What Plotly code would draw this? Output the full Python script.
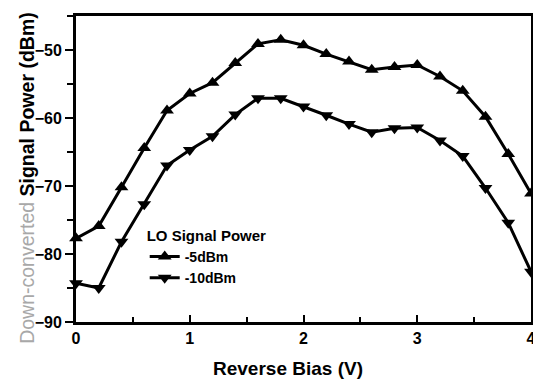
import plotly.graph_objects as go

bias = [0.0, 0.2, 0.4, 0.6, 0.8, 1.0, 1.2, 1.4, 1.6, 1.8, 2.0, 2.2, 2.4, 2.6, 2.8, 3.0, 3.2, 3.4, 3.6, 3.8, 4.0]
lo_minus5 = [-77.7, -75.9, -70.2, -64.4, -58.9, -56.4, -54.8, -51.9, -49.1, -48.5, -49.3, -50.6, -51.7, -52.9, -52.5, -52.2, -53.9, -56.0, -59.8, -65.3, -71.1]
lo_minus10 = [-84.3, -85.0, -78.2, -72.7, -67.0, -64.7, -62.7, -59.5, -57.1, -57.1, -58.3, -59.6, -60.9, -62.1, -61.5, -61.4, -63.3, -65.6, -70.3, -75.4, -82.6]
x_ticks = [0, 1, 2, 3, 4]
y_ticks = [-90, -80, -70, -60, -50]

fig = go.Figure()
fig.add_trace(go.Scatter(x=bias, y=lo_minus5, mode="lines+markers", name="-5dBm",
                         line=dict(color="black", width=3), cliponaxis=False,
                         marker=dict(symbol="triangle-up", size=12, color="black")))
fig.add_trace(go.Scatter(x=bias, y=lo_minus10, mode="lines+markers", name="-10dBm",
                         line=dict(color="black", width=3), cliponaxis=False,
                         marker=dict(symbol="triangle-down", size=12, color="black")))

font = "Liberation Sans, Arial, sans-serif"
bold16 = dict(family=font, size=16, weight="bold", color="black")
# page body has an 8px default margin, so the figure is 8px smaller than the window
fig.update_layout(
    width=533, height=371,
    margin=dict(l=68, r=5, t=5, b=57),
    paper_bgcolor="white", plot_bgcolor="white",
    font=dict(family=font, color="black", size=14),
    showlegend=True,
    legend=dict(x=0.151, y=0.329, xanchor="left", yanchor="top",
                bgcolor="rgba(0,0,0,0)", tracegroupgap=0,
                title=dict(text="LO Signal Power", font=dict(family=font, size=15, weight="bold")),
                font=dict(family=font, size=14, weight="bold")),
    xaxis=dict(range=[0, 4], tickvals=x_ticks, tickfont=bold16,
               ticks="inside", ticklen=7, tickwidth=2, tickcolor="black",
               minor=dict(dtick=0.5, ticks="inside", ticklen=5, tickwidth=1.5, tickcolor="black"),
               showline=True, linewidth=3, linecolor="black", mirror=True,
               showgrid=False, zeroline=False, ticklabeloverflow="allow"),
    yaxis=dict(range=[-90, -45], tickvals=y_ticks, tickfont=bold16,
               ticks="outside", ticklen=8, tickwidth=2, tickcolor="black",
               minor=dict(dtick=5, ticks="outside", ticklen=6, tickwidth=1.5, tickcolor="black"),
               showline=True, linewidth=3, linecolor="black", mirror=True,
               showgrid=False, zeroline=False),
    annotations=[
        dict(text="Reverse Bias (V)", xref="paper", yref="paper", x=0.466, y=0,
             xanchor="center", yanchor="top", yshift=-34, showarrow=False,
             font=dict(family=font, size=19, weight="bold", color="black")),
        dict(text="<span style='color:#a8a8a8;font-weight:normal'>Down-converted</span> Signal Power (dBm)",
             xref="paper", yref="paper", x=0, y=0.471, xanchor="center", yanchor="middle",
             xshift=-49, textangle=-90, showarrow=False,
             font=dict(family=font, size=19.5, weight="bold", color="black")),
    ],
)

fig.write_html("out.html")
